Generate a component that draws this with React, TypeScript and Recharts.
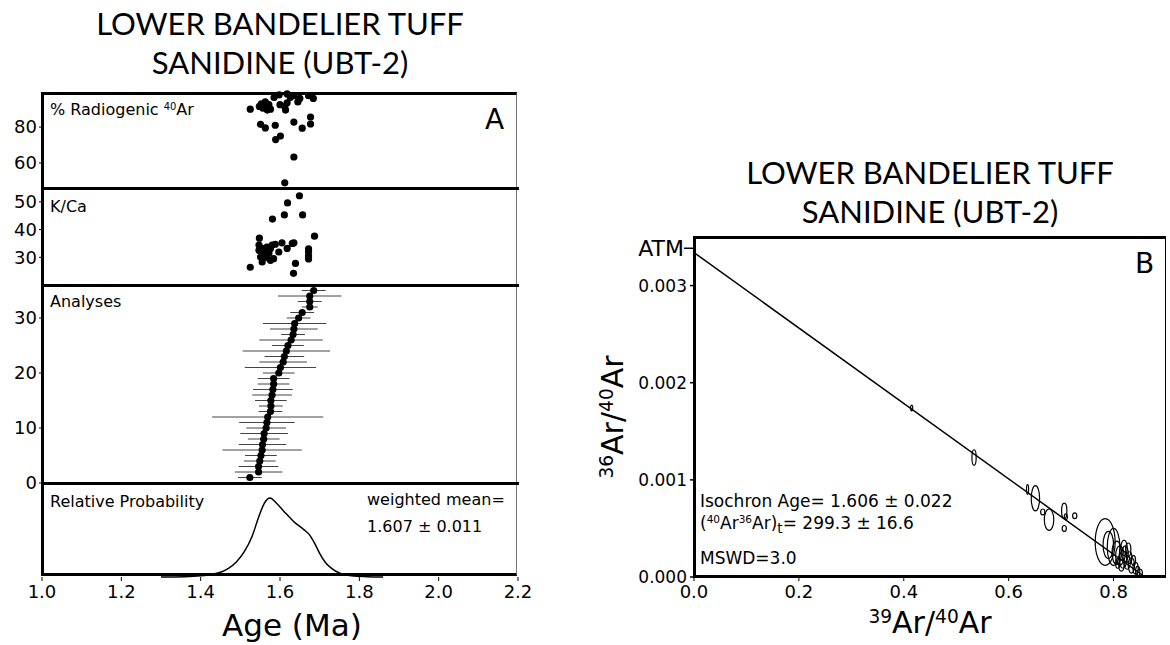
import React from 'react'
import { ScatterChart, ComposedChart, Scatter, Line, XAxis, YAxis, ErrorBar } from 'recharts'

const TICK_FONT = '"DejaVu Sans", Verdana, sans-serif'
const TITLE_FONT = 'Lato, "Open Sans", sans-serif'

// ---- Panel A: % radiogenic 40Ar ----
const radAges = [1.525, 1.548, 1.553, 1.557, 1.56, 1.563, 1.565, 1.568, 1.572, 1.576, 1.585, 1.6, 1.612, 1.614, 1.618, 1.626, 1.635, 1.645, 1.65, 1.672, 1.684, 1.551, 1.563, 1.588, 1.589, 1.601, 1.635, 1.656, 1.677, 1.677, 1.635, 1.612, 1.618, 1.598]
const radPct = [90, 91.5, 93, 90.5, 92, 94, 91, 89.5, 92.5, 90, 96.5, 92.5, 91.5, 89.5, 93.5, 96.5, 97.5, 94, 96, 97.5, 96, 81.5, 79.5, 81, 73, 75, 82.8, 79.4, 85.6, 81.7, 63.3, 48.9, 98.5, 98]

// ---- Panel A: K/Ca ----
const kcaAges = [1.649, 1.619, 1.611, 1.657, 1.581, 1.548, 1.687, 1.547, 1.555, 1.559, 1.567, 1.576, 1.58, 1.588, 1.597, 1.605, 1.618, 1.631, 1.635, 1.551, 1.555, 1.567, 1.576, 1.584, 1.563, 1.547, 1.572, 1.672, 1.672, 1.672, 1.672, 1.525, 1.639, 1.634]
const kcaRatio = [52.2, 49.6, 45.3, 45.3, 43.8, 36.9, 37.6, 34.4, 33.2, 31.9, 33.7, 33.2, 34.4, 34.7, 31.9, 35.2, 33.2, 35, 35.2, 30.1, 28.3, 29.9, 28.9, 29.5, 30.7, 32.5, 31.5, 33, 32, 30.5, 29.4, 26.4, 27.8, 24.2]

// ---- Panel A: individual analyses (ranked) ----
const analysisAges = [1.524, 1.546, 1.546, 1.549, 1.552, 1.555, 1.556, 1.559, 1.56, 1.565, 1.567, 1.569, 1.576, 1.577, 1.577, 1.58, 1.582, 1.584, 1.584, 1.597, 1.601, 1.608, 1.611, 1.616, 1.62, 1.628, 1.633, 1.635, 1.637, 1.647, 1.656, 1.675, 1.675, 1.675, 1.685]
const analysisErr = [0.03, 0.06, 0.05, 0.04, 0.04, 0.1, 0.06, 0.04, 0.06, 0.05, 0.07, 0.14, 0.03, 0.03, 0.04, 0.05, 0.05, 0.04, 0.04, 0.04, 0.09, 0.06, 0.05, 0.11, 0.04, 0.08, 0.03, 0.06, 0.08, 0.03, 0.03, 0.02, 0.03, 0.08, 0.03]

// ---- Panel A: relative probability ----
const probAges = [1.3, 1.36, 1.4, 1.43, 1.45, 1.47, 1.49, 1.51, 1.53, 1.545, 1.56, 1.575, 1.59, 1.61, 1.635, 1.66, 1.675, 1.69, 1.7, 1.715, 1.73, 1.75, 1.78, 1.82, 1.86]
const probValues = [0, 0.004, 0.015, 0.035, 0.06, 0.11, 0.19, 0.32, 0.52, 0.74, 0.93, 1.0, 0.94, 0.83, 0.7, 0.6, 0.53, 0.4, 0.3, 0.18, 0.11, 0.05, 0.015, 0.004, 0]

const ageTicks = [1.0, 1.2, 1.4, 1.6, 1.8, 2.0, 2.2]

// ---- Panel B: isochron ----
const isoX = [0.415, 0.534, 0.636, 0.651, 0.665, 0.677, 0.706, 0.706, 0.709, 0.726, 0.784, 0.79, 0.8, 0.806, 0.812, 0.818, 0.822, 0.826, 0.83, 0.834, 0.838, 0.842, 0.846, 0.815, 0.808, 0.828, 0.82, 0.85]
const isoY = [0.00174, 0.00123, 0.0009, 0.00081, 0.00067, 0.00059, 0.00068, 0.0005, 0.00062, 0.00063, 0.00036, 0.00033, 0.00031, 0.00025, 0.00022, 0.00018, 0.00024, 0.00015, 0.0002, 0.00012, 0.00017, 0.00009, 0.00006, 0.00012, 0.00014, 0.00028, 0.0003, 0.00004]
const isoSx = [0.002, 0.004, 0.002, 0.008, 0.004, 0.009, 0.005, 0.004, 0.003, 0.004, 0.019, 0.01, 0.012, 0.009, 0.008, 0.007, 0.006, 0.006, 0.005, 0.006, 0.004, 0.005, 0.004, 0.005, 0.004, 0.005, 0.006, 0.005]
const isoSy = [0.00003, 0.00008, 0.00005, 0.00013, 0.00003, 0.00011, 0.00008, 0.00003, 0.00003, 0.00003, 0.00024, 0.00014, 0.00019, 0.00012, 0.0001, 0.00009, 0.00008, 0.00007, 0.00006, 0.00008, 0.00005, 0.00006, 0.00005, 0.00006, 0.00005, 0.00007, 0.00008, 0.00004]
const fitX = [0, 0.86]
const fitY = [0.00334, 0]
const ATM = 0.003384
const isoXTicks = [0, 0.2, 0.4, 0.6, 0.8]
const isoYTicks = [0, 0.001, 0.002, 0.003, ATM]

const radData = radAges.map((age, i) => ({ age, v: radPct[i] }))
const kcaData = kcaAges.map((age, i) => ({ age, v: kcaRatio[i] }))
const analyses = analysisAges.map((age, i) => ({ age, v: i + 1, err: analysisErr[i] }))
const probData = probAges.map((age, i) => ({ age, p: probValues[i] }))
const isoData = isoX.map((x, i) => ({ x, y: isoY[i], sx: isoSx[i], sy: isoSy[i] }))
const fitData = fitX.map((x, i) => ({ x, y: fitY[i] }))

// plot box of panel B, used to turn the ellipse half-widths into pixels
const B_W = 472
const B_H = 340
const B_XMAX = 0.9
const B_YMAX = 0.0035

const tickStyle = { fontSize: 18, fill: '#000', fontFamily: TICK_FONT }

const Dot = (p: any) => <circle cx={p.cx} cy={p.cy} r={3.6} fill="#000" />

const ErrEllipse = (p: any) => (
  <ellipse
    cx={p.cx}
    cy={p.cy}
    rx={Math.max(1, (p.payload.sx * B_W) / B_XMAX)}
    ry={Math.max(1.5, (p.payload.sy * B_H) / B_YMAX)}
    fill="none"
    stroke="#000"
    strokeWidth={1.2}
  />
)

const IsoYTick = (props: any) => {
  const { x, y, payload } = props
  const axisX = x + 7
  const atm = payload.value === ATM
  return (
    <g>
      <line x1={axisX - (atm ? 10 : 4)} x2={axisX} y1={y} y2={y} stroke="#000" strokeWidth={1.5} />
      <text
        x={atm ? axisX - 10 : x}
        y={y}
        dy="0.35em"
        textAnchor="end"
        fontSize={atm ? 22 : 17}
        fontFamily={TICK_FONT}
        fill="#000"
      >
        {atm ? 'ATM' : payload.value.toFixed(3)}
      </text>
    </g>
  )
}

const abs = (left: number, top: number, extra: React.CSSProperties = {}): React.CSSProperties => ({
  position: 'absolute',
  left,
  top,
  whiteSpace: 'nowrap',
  ...extra,
})

const sup: React.CSSProperties = { fontSize: '0.62em', position: 'relative', top: '-0.55em' }
const sub: React.CSSProperties = { fontSize: '0.8em', position: 'relative', top: '0.3em' }

function Titles({ cx, top }: { cx: number; top: number }) {
  return (
    <div style={abs(cx - 250, top, { width: 500, textAlign: 'center', fontFamily: TITLE_FONT, fontSize: 31, lineHeight: '39px', color: '#000' })}>
      LOWER BANDELIER TUFF
      <br />
      SANIDINE (UBT-2)
    </div>
  )
}

export default function App() {
  const line = (top: number): React.CSSProperties => abs(41, top - 1, { width: 478, height: 3, background: '#000' })
  const label: React.CSSProperties = { fontFamily: TICK_FONT, fontSize: 16, color: '#000', lineHeight: '20px' }

  return (
    <div style={{ position: 'absolute', left: 0, top: 0, width: 1170, height: 645, background: '#fff', overflow: 'hidden' }}>
      <Titles cx={280} top={4} />
      <Titles cx={930} top={153} />

      {/* Panel A, % radiogenic */}
      <div style={abs(0, 78)}>
        <ScatterChart width={545} height={120} margin={{ top: 15, right: 27, bottom: 10, left: 0 }}>
          <XAxis type="number" dataKey="age" domain={[1.0, 2.2]} hide />
          <YAxis type="number" dataKey="v" domain={[46, 99]} ticks={[60, 80]} width={42} axisLine={false} interval={0}
            tickSize={3} tickMargin={2} tickLine={{ stroke: '#000' }} tick={tickStyle} />
          <Scatter data={radData} shape={Dot} isAnimationActive={false} />
        </ScatterChart>
      </div>

      {/* Panel A, K/Ca */}
      <div style={abs(0, 178)}>
        <ScatterChart width={545} height={117} margin={{ top: 10, right: 27, bottom: 10, left: 0 }}>
          <XAxis type="number" dataKey="age" domain={[1.0, 2.2]} hide />
          <YAxis type="number" dataKey="v" domain={[20, 55]} ticks={[30, 40, 50]} width={42} axisLine={false} interval={0}
            tickSize={3} tickMargin={2} tickLine={{ stroke: '#000' }} tick={tickStyle} />
          <Scatter data={kcaData} shape={Dot} isAnimationActive={false} />
        </ScatterChart>
      </div>

      {/* Panel A, analyses */}
      <div style={abs(0, 275)}>
        <ScatterChart width={545} height={220} margin={{ top: 10, right: 27, bottom: 12, left: 0 }}>
          <XAxis type="number" dataKey="age" domain={[1.0, 2.2]} hide />
          <YAxis type="number" dataKey="v" domain={[0, 36]} ticks={[0, 10, 20, 30]} width={42} axisLine={false} interval={0}
            tickSize={3} tickMargin={2} tickLine={{ stroke: '#000' }} tick={tickStyle} />
          <Scatter data={analyses} shape={Dot} isAnimationActive={false}>
            <ErrorBar dataKey="err" direction="x" width={0} stroke="#444" strokeWidth={1} />
          </Scatter>
        </ScatterChart>
      </div>

      {/* Panel A, relative probability */}
      <div style={abs(0, 473)}>
        <ComposedChart width={545} height={172} margin={{ top: 10, right: 27, bottom: 0, left: 42 }}>
          <XAxis type="number" dataKey="age" domain={[1.0, 2.2]} ticks={ageTicks} height={68} interval={0}
            axisLine={false} tickLine={{ stroke: '#000' }} tickSize={4} tickMargin={4}
            tick={tickStyle} tickFormatter={(v: number) => v.toFixed(1)} />
          <YAxis type="number" domain={[0, 1.19]} hide />
          <Line data={probData} dataKey="p" type="monotone" stroke="#000" strokeWidth={1.5} dot={false} isAnimationActive={false} />
        </ComposedChart>
      </div>

      {/* Panel A frame */}
      <div style={abs(41, 92, { width: 476, height: 484, borderTop: '3px solid #000', borderLeft: '3px solid #000', borderBottom: '3px solid #000', borderRight: '1px solid #777', boxSizing: 'border-box' })} />
      <div style={line(188)} />
      <div style={line(285)} />
      <div style={line(483)} />

      <div style={abs(50, 100, label)}>% Radiogenic <span style={sup}>40</span>Ar</div>
      <div style={abs(50, 197, label)}>K/Ca</div>
      <div style={abs(50, 292, label)}>Analyses</div>
      <div style={abs(50, 492, label)}>Relative Probability</div>
      <div style={abs(367, 490, label)}>weighted mean=</div>
      <div style={abs(367, 517, label)}>1.607 ± 0.011</div>
      <div style={abs(485, 104, { fontFamily: TICK_FONT, fontSize: 28, lineHeight: '32px' })}>A</div>
      <div style={abs(222, 606, { fontFamily: TICK_FONT, fontSize: 31, lineHeight: '38px' })}>Age (Ma)</div>

      {/* Panel B, isochron */}
      <div style={abs(560, 230)}>
        <ComposedChart width={610} height={415} margin={{ top: 7, right: 4, bottom: 0, left: 0 }}>
          <XAxis type="number" dataKey="x" domain={[0, B_XMAX]} ticks={isoXTicks} height={68} interval={0}
            axisLine={false} tickLine={{ stroke: '#000' }} tickSize={4} tickMargin={4}
            tick={tickStyle} tickFormatter={(v: number) => v.toFixed(1)} />
          <YAxis type="number" dataKey="y" domain={[0, B_YMAX]} ticks={isoYTicks} width={134} interval={0}
            axisLine={false} tickLine={false} tickSize={4} tickMargin={3} tick={<IsoYTick />} />
          <Line data={fitData} dataKey="y" type="linear" stroke="#000" strokeWidth={1.5} dot={false} isAnimationActive={false} />
          <Scatter data={isoData} dataKey="y" shape={ErrEllipse} isAnimationActive={false} />
        </ComposedChart>
      </div>

      <div style={abs(693, 236, { width: 473, height: 342, borderTop: '3px solid #000', borderLeft: '3px solid #000', borderBottom: '3px solid #000', borderRight: '1.5px solid #000', boxSizing: 'border-box' })} />
      <div style={abs(1135, 248, { fontFamily: TICK_FONT, fontSize: 28, lineHeight: '32px' })}>B</div>

      <div style={abs(700, 491, { ...label, fontSize: 17 })}>Isochron Age= 1.606 ± 0.022</div>
      <div style={abs(700, 513, { ...label, fontSize: 17 })}>
        (<span style={sup}>40</span>Ar<span style={sup}>36</span>Ar)<span style={sub}>t</span>= 299.3 ± 16.6
      </div>
      <div style={abs(700, 548, { ...label, fontSize: 17 })}>MSWD=3.0</div>

      <div style={abs(930, 625, { fontFamily: TICK_FONT, fontSize: 30, lineHeight: '36px', transform: 'translate(-50%, -50%)' })}>
        <span style={sup}>39</span>Ar/<span style={sup}>40</span>Ar
      </div>
      <div style={abs(615, 417, { fontFamily: TICK_FONT, fontSize: 30, lineHeight: '36px', transform: 'translate(-50%, -50%) rotate(-90deg)' })}>
        <span style={sup}>36</span>Ar/<span style={sup}>40</span>Ar
      </div>
    </div>
  )
}
